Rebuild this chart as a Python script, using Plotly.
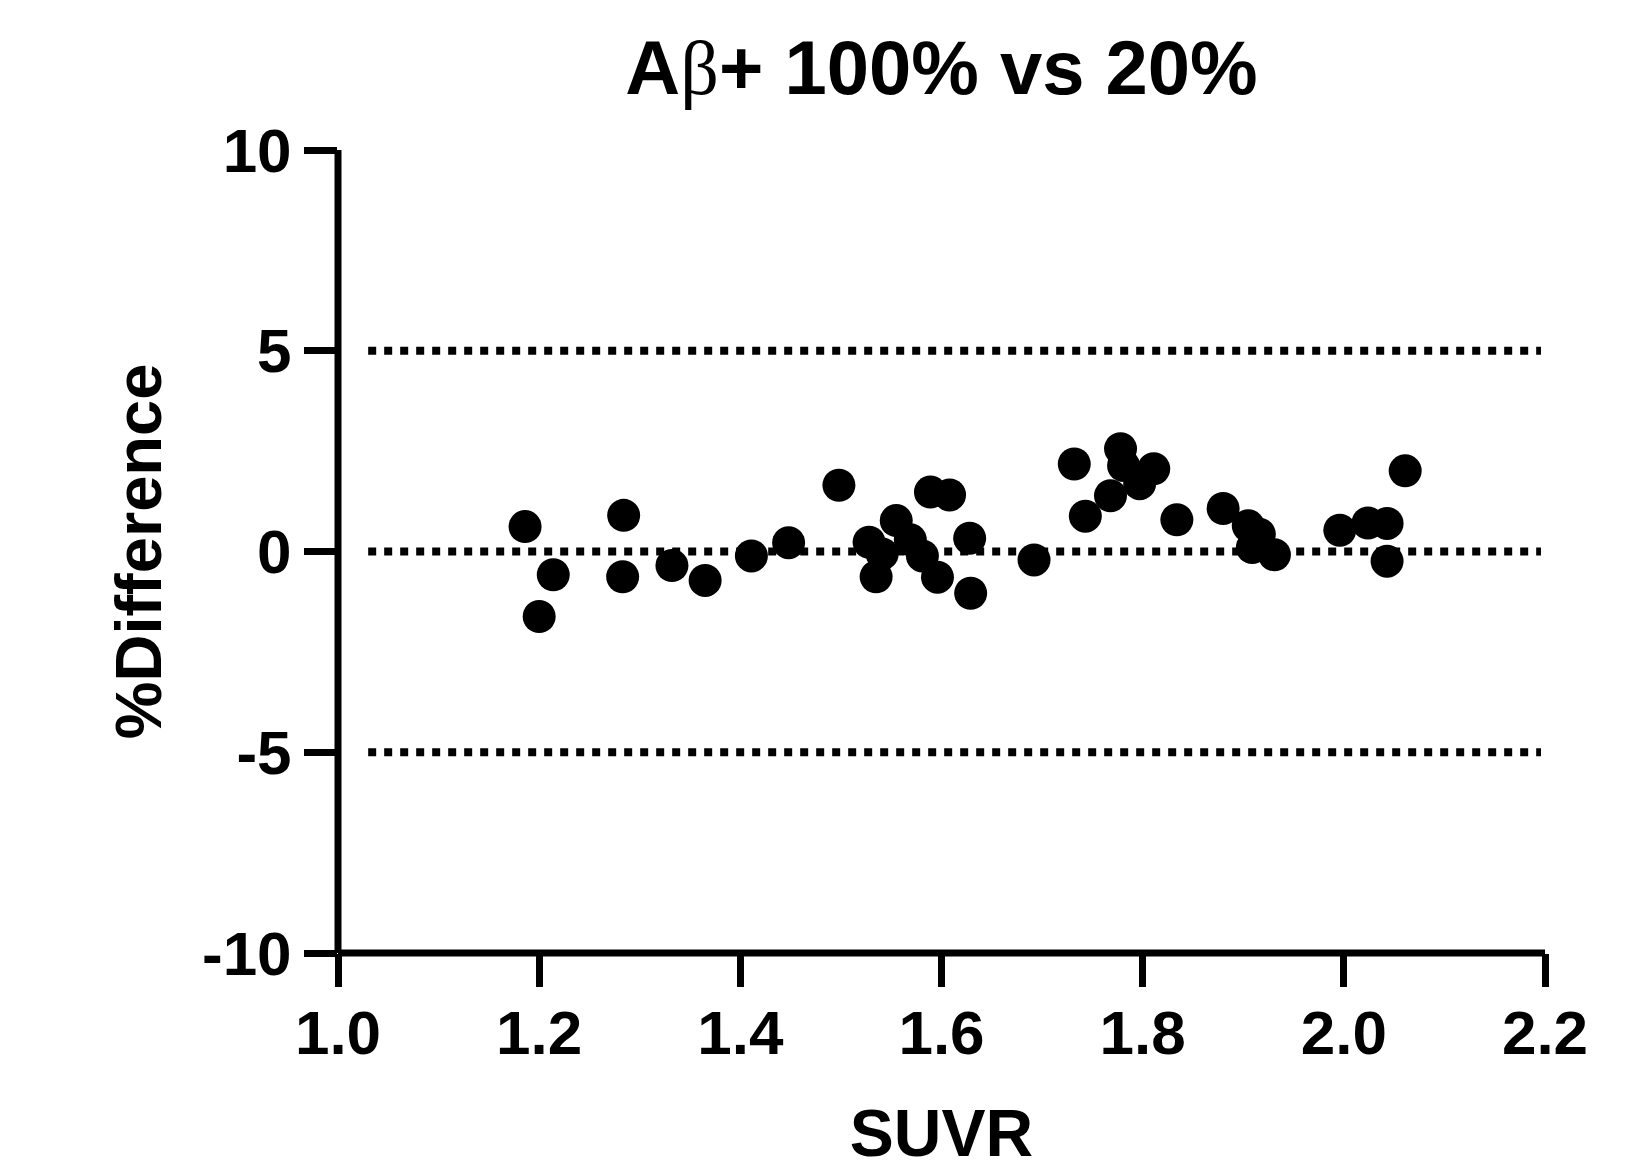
import plotly.graph_objects as go

# SUVR (x) and %Difference (y)
suvr = [1.186, 1.200, 1.214, 1.284, 1.283, 1.332, 1.365, 1.411, 1.448, 1.498,
        1.528, 1.535, 1.541, 1.555, 1.569, 1.581, 1.589, 1.596, 1.608, 1.628,
        1.629, 1.692, 1.732, 1.743, 1.768, 1.778, 1.781, 1.797, 1.811, 1.834,
        1.880, 1.905, 1.909, 1.916, 1.931, 1.996, 2.024, 2.043, 2.043, 2.061]
pct_diff = [0.62, -1.62, -0.58, 0.90, -0.63, -0.35, -0.72, -0.11, 0.22, 1.65,
            0.23, -0.63, -0.06, 0.77, 0.29, -0.11, 1.48, -0.64, 1.41, 0.33,
            -1.04, -0.21, 2.18, 0.88, 1.39, 2.56, 2.14, 1.69, 2.06, 0.79,
            1.07, 0.64, 0.10, 0.43, -0.08, 0.53, 0.71, 0.70, -0.24, 2.01]

ref_lines = [-5, 0, 5]
x_ticks = [1.0, 1.2, 1.4, 1.6, 1.8, 2.0, 2.2]
x_tick_text = ["1.0", "1.2", "1.4", "1.6", "1.8", "2.0", "2.2"]
y_ticks = [-10, -5, 0, 5, 10]
y_tick_text = ["-10", "-5", "0", "5", "10"]

FONT = "Liberation Sans, Arial, Helvetica, sans-serif"

fig = go.Figure()
fig.add_trace(go.Scatter(
    x=suvr, y=pct_diff, mode="markers",
    marker=dict(size=33, color="black", line=dict(width=0)),
    showlegend=False, cliponaxis=False,
))

for yv in ref_lines:
    fig.add_shape(type="line", xref="x", yref="y", x0=1.03, x1=2.196, y0=yv, y1=yv,
                  line=dict(color="black", width=8, dash="8px,8px"), layer="below")

# axis lines centred on the plot-area edges (as in the reference)
fig.add_shape(type="line", xref="paper", yref="paper", x0=0, x1=0, y0=0, y1=1,
              line=dict(color="black", width=7), layer="above")
fig.add_shape(type="line", xref="paper", yref="paper", x0=0, x1=1, y0=0, y1=0,
              line=dict(color="black", width=7), layer="above")

W, H = 1618, 1162  # page body has an 8px margin in the 1626x1170 window
fig.update_layout(
    width=W, height=H,
    margin=dict(l=330, r=81, t=142, b=217, autoexpand=False),
    paper_bgcolor="white", plot_bgcolor="white",
    font=dict(family=FONT, color="black"),
    title=dict(
        text="A<span style='font-family:Liberation Serif, Times New Roman, serif; font-weight:normal'>β</span>+ 100% vs 20%",
        x=0.5, xref="paper", xanchor="center",
        y=1 - 59 / H, yref="container", yanchor="middle",
        font=dict(family=FONT, size=76, color="black", weight="bold"),
    ),
    showlegend=False,
)

fig.update_xaxes(
    range=[1.0, 2.2], tickvals=x_ticks, ticktext=x_tick_text,
    showgrid=False, zeroline=False, automargin=False,
    showline=False,
    ticks="outside", ticklen=33, tickwidth=7, tickcolor="black",
    tickfont=dict(family=FONT, size=62, color="black", weight="bold"),
    ticklabelstandoff=-7,
    title=dict(text="SUVR", font=dict(family=FONT, size=66, color="black", weight="bold"), standoff=46),
)
fig.update_yaxes(
    range=[-10, 10], tickvals=y_ticks, ticktext=y_tick_text,
    showgrid=False, zeroline=False, automargin=False,
    showline=False,
    ticks="outside", ticklen=33, tickwidth=7, tickcolor="black",
    tickfont=dict(family=FONT, size=62, color="black", weight="bold"),
    ticklabelstandoff=0,
    title=dict(text="%Difference", font=dict(family=FONT, size=65, color="black", weight="bold"), standoff=19),
)

fig.write_html("out.html")
